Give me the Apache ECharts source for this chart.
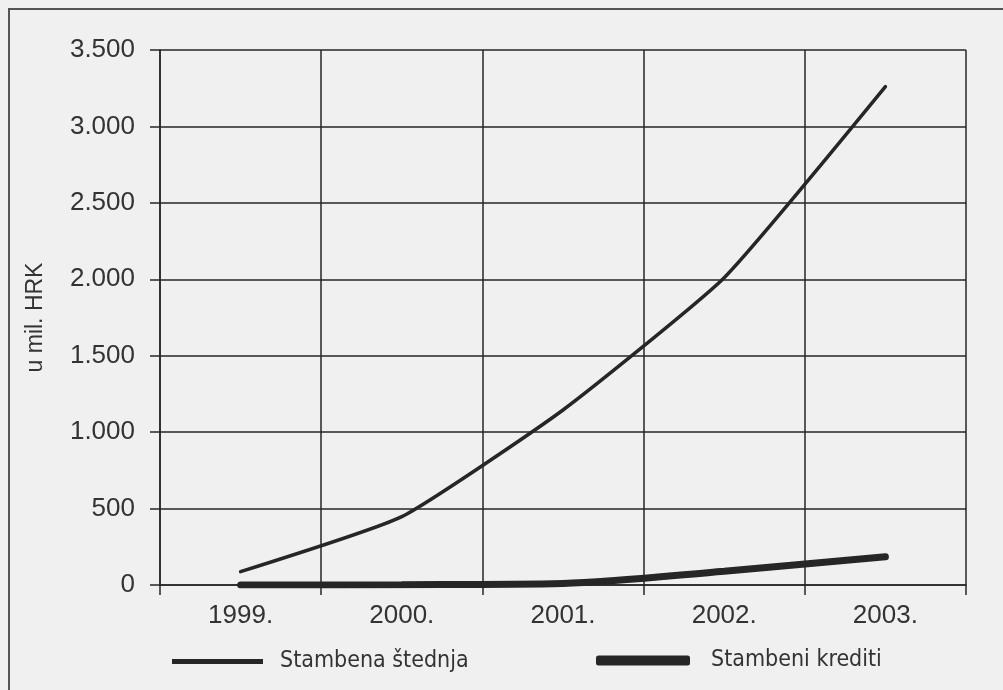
<!DOCTYPE html>
<html>
<head>
<meta charset="utf-8">
<script src="https://cdn.jsdelivr.net/npm/echarts@6/dist/echarts.min.js"></script>
<style>
  html, body { margin: 0; padding: 0; background: #eff0ef; }
  #chart { width: 1003px; height: 690px; }
</style>
</head>
<body>
<div id="chart"></div>
<script>
// kategorije (godine)
const years = ["1999.", "2000.", "2001.", "2002.", "2003."];
// u mil. HRK
const stambenaStednja = [87, 447, 1145, 2010, 3260];
const stambeniKrediti = [0, 2, 10, 90, 185];
const yTicks = { min: 0, max: 3500, interval: 500 };

const ink = "#262626";
const labelFont = "'Liberation Sans', Arial, sans-serif";
const legendFont = "'Liberation Sans Narrow', 'DejaVu Sans Condensed', 'Liberation Sans', sans-serif";

let myChart = echarts.init(document.getElementById("chart"));
let option = {
  backgroundColor: "#eff0ef",
  animation: false,
  // okvir slike
  graphic: [
    {
      type: "rect",
      shape: { x: 9, y: 9, width: 1100, height: 800 },
      style: { fill: "none", stroke: "#555", lineWidth: 2 },
      silent: true,
      z: -1,
    },
  ],
  grid: { left: 160, right: 37, top: 50, bottom: 105 },
  legend: [
    {
      data: ["Stambena štednja"],
      left: 167,
      top: 645,
      icon: "rect",
      itemWidth: 91,
      itemHeight: 5,
      textStyle: { color: "#333", fontSize: 23, fontFamily: legendFont, padding: [0, 0, 0, 12] },
    },
    {
      data: ["Stambeni krediti"],
      left: 591,
      top: 644,
      icon: "roundRect",
      itemWidth: 94,
      itemHeight: 10,
      textStyle: { color: "#333", fontSize: 23, fontFamily: legendFont, padding: [0, 0, 0, 16] },
    },
  ],
  xAxis: {
    type: "category",
    data: years,
    boundaryGap: true,
    axisLine: { show: true, lineStyle: { color: ink, width: 1.5 } },
    axisTick: { show: true, length: 10, lineStyle: { color: ink, width: 1.5 } },
    axisLabel: { color: "#333", fontSize: 26, fontFamily: labelFont, margin: 18 },
    splitLine: { show: true, lineStyle: { color: ink, width: 1.5 } },
  },
  yAxis: {
    type: "value",
    min: yTicks.min,
    max: yTicks.max,
    interval: yTicks.interval,
    name: "u mil. HRK",
    nameLocation: "middle",
    nameGap: 113,
    nameTextStyle: { color: "#333", fontSize: 23, fontFamily: labelFont },
    axisLine: { show: true, lineStyle: { color: ink, width: 1.5 } },
    axisTick: { show: true, length: 10, lineStyle: { color: ink, width: 1.5 } },
    axisLabel: {
      color: "#333",
      fontSize: 26,
      fontFamily: labelFont,
      margin: 25,
      formatter: (v) => v.toLocaleString("de-DE"),
    },
    splitLine: { show: true, lineStyle: { color: ink, width: 1.5 } },
  },
  series: [
    {
      name: "Stambena štednja",
      type: "line",
      data: stambenaStednja,
      smooth: 0.15,
      symbol: "none",
      color: ink,
      lineStyle: { color: ink, width: 3.5, cap: "round" },
      z: 3,
    },
    {
      name: "Stambeni krediti",
      type: "line",
      data: stambeniKrediti,
      smooth: 0.3,
      symbol: "none",
      color: ink,
      lineStyle: { color: ink, width: 7, cap: "round" },
      z: 4,
    },
  ],
};
myChart.setOption(option);
</script>
</body>
</html>
